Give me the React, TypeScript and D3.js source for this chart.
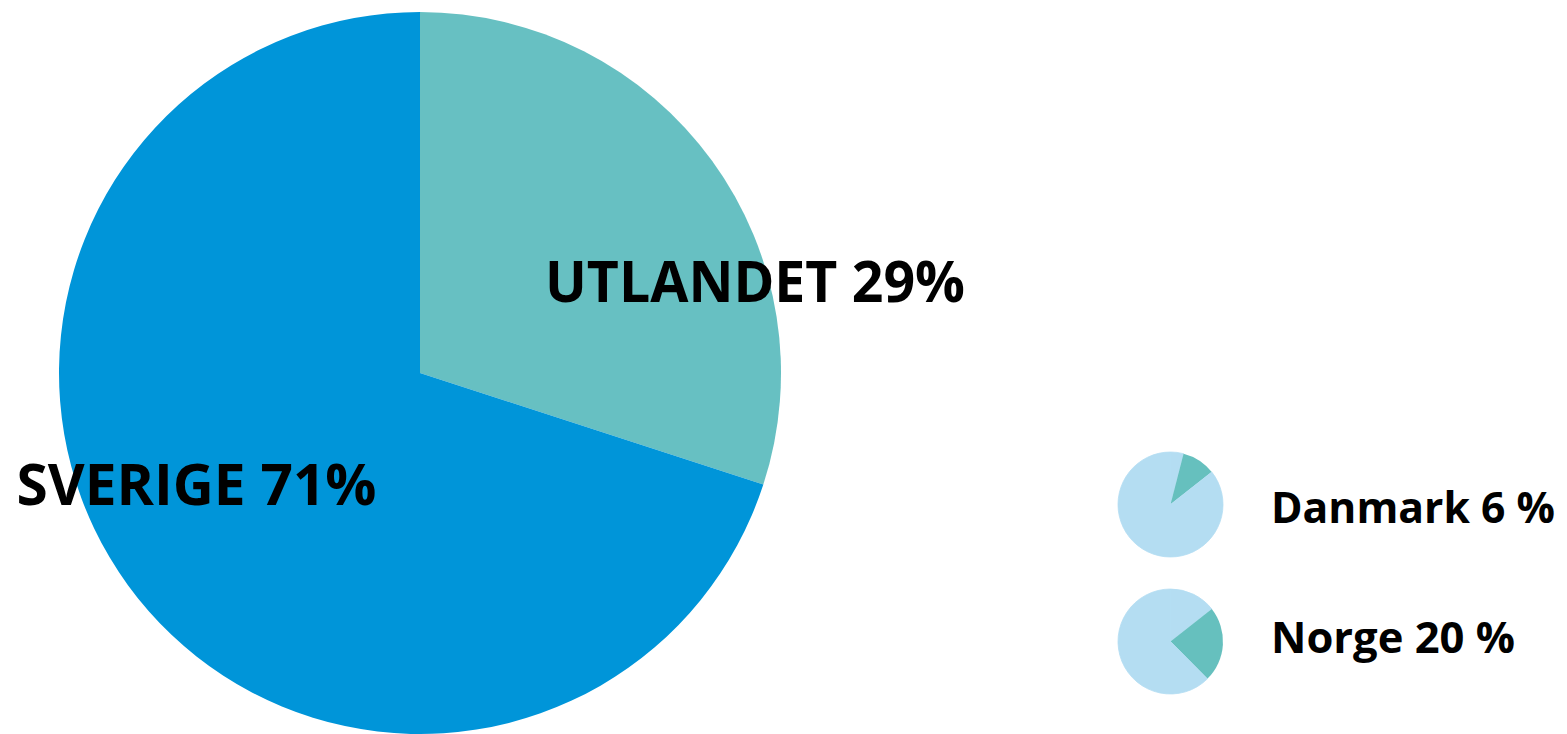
import React from "react";
import * as d3 from "d3";

// Main pie (values as drawn; labels as printed)
const mainCategories = ["UTLANDET", "SVERIGE"];
const mainValues = [30, 70];
const mainLabels = ["UTLANDET 29%", "SVERIGE 71%"];

// Small pies: segments [light, teal, light], in percent of circle
const smallNames = ["Danmark", "Norge"];
const smallLabels = ["Danmark 6 %", "Norge 20 %"];
const danmarkSegments = [4.0, 10.4, 85.6];
const norgeSegments = [14.4, 23.2, 62.4];

const W = 1567;
const H = 734;

export default function App() {
  const mainColors = ["#67C0C2", "#0095D9"];
  const smallColors = ["#B4DDF2", "#66C0BE", "#B4DDF2"];

  const cx = 420, cy = 373, r = 361;
  const pie = d3.pie<number>().sort(null).value((d) => d);
  const arc = d3.arc<d3.PieArcDatum<number>>().innerRadius(0).outerRadius(r);
  const mainArcs = pie(mainValues);

  const smallR = 52.5;
  const smallArc = d3.arc<d3.PieArcDatum<number>>().innerRadius(0).outerRadius(smallR);
  const smallData = [danmarkSegments, norgeSegments];
  const smallCenters = [
    { x: 1170.5, y: 504.5 },
    { x: 1170.5, y: 641.5 },
  ];
  const smallLabelPos = [
    { x: 1271, y: 523, len: 284 },
    { x: 1271, y: 653, len: 244 },
  ];

  const mainLabelPos = [
    { x: 545, y: 301.5, len: 420 },
    { x: 16.5, y: 505, len: 360 },
  ];

  const font = "'Open Sans', 'Noto Sans', sans-serif";

  return (
    <svg
      width={W}
      height={H}
      style={{ position: "absolute", left: 0, top: 0, background: "#fff" }}
    >
      <g transform={`translate(${cx},${cy})`}>
        {mainArcs.map((a, i) => (
          <path key={mainCategories[i]} d={arc(a) || ""} fill={mainColors[i]} />
        ))}
      </g>
      {smallData.map((seg, j) => (
        <g key={smallNames[j]} transform={`translate(${smallCenters[j].x},${smallCenters[j].y})`}>
          {pie(seg).map((a, i) => (
            <path
              key={i}
              d={smallArc(a) || ""}
              fill={smallColors[i]}
              stroke={smallColors[i]}
              strokeWidth={i === 1 ? 0 : 0.8}
              strokeLinejoin="round"
            />
          ))}
        </g>
      ))}
      {mainLabels.map((t, i) => (
        <text
          key={t}
          x={mainLabelPos[i].x}
          y={mainLabelPos[i].y}
          fontFamily={font}
          fontWeight={700}
          fontSize={57}
          fill="#000"
          textLength={mainLabelPos[i].len}
          lengthAdjust="spacingAndGlyphs"
        >
          {t}
        </text>
      ))}
      {smallLabels.map((t, i) => (
        <text
          key={t}
          x={smallLabelPos[i].x}
          y={smallLabelPos[i].y}
          fontFamily={font}
          fontWeight={700}
          fontSize={42.5}
          fill="#000"
          textLength={smallLabelPos[i].len}
          lengthAdjust="spacingAndGlyphs"
        >
          {t}
        </text>
      ))}
    </svg>
  );
}
